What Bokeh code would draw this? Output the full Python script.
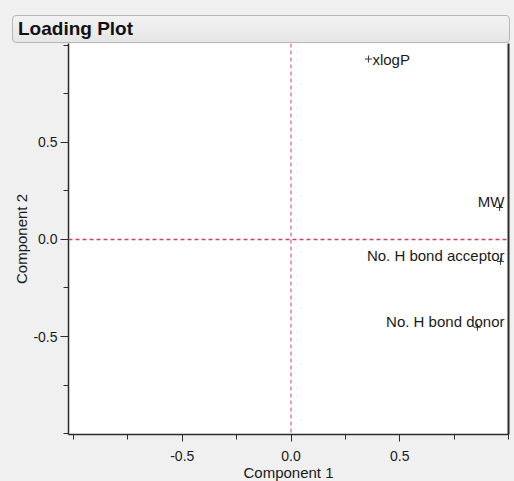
from bokeh.plotting import figure
from bokeh.models import (Span, LinearAxis, FixedTicker, Div, ColumnDataSource,
                          Range1d, NumeralTickFormatter)
from bokeh.layouts import column
from bokeh.core.properties import value
from bokeh.embed import file_html
from bokeh.resources import INLINE

# ---- data ----
variables = ["xlogP", "MW", "No. H bond acceptor", "No. H bond donor"]
comp1 = [0.356, 0.959, 0.963, 0.857]
comp2 = [0.930, 0.165, -0.113, -0.452]

x_major = [-0.5, 0.0, 0.5]
x_minor = [-1.0, -0.75, -0.25, 0.25, 0.75, 1.0]
y_major = [-0.5, 0.0, 0.5]
y_minor = [-1.0, -0.75, -0.25, 0.25, 0.75, 1.0]

title_text = "Loading Plot"
x_title = "Component 1"
y_title = "Component 2"

FONT = "Liberation Sans"
BG = "#f0f0f0"
AXIS = "#2b2b2b"
TXT = "#1a1a1a"
CROSS = "#d0406a"

p = figure(frame_width=440, frame_height=391,
           x_range=Range1d(-1.023, 1.0), y_range=Range1d(-1.005, 1.01),
           output_backend="svg", toolbar_location=None, title=None,
           min_border_left=68, min_border_right=6, min_border_top=0,
           min_border_bottom=47,
           background_fill_color="white", border_fill_color=BG,
           outline_line_color=None)
p.grid.visible = False

# axes styling
for ax, maj, mnr, lab in ((p.xaxis[0], x_major, x_minor, x_title),
                          (p.yaxis[0], y_major, y_minor, y_title)):
    ax.ticker = FixedTicker(ticks=maj, minor_ticks=mnr)
    ax.formatter = NumeralTickFormatter(format="0.0")
    ax.axis_label = lab
    ax.axis_label_text_font = FONT
    ax.axis_label_text_font_size = "15px"
    ax.axis_label_text_font_style = "normal"
    ax.axis_label_text_color = TXT
    ax.major_label_text_font = FONT
    ax.major_label_text_font_size = "14px"
    ax.major_label_text_color = TXT
    ax.axis_line_color = AXIS
    ax.axis_line_width = 1.5
    ax.major_tick_line_color = AXIS
    ax.minor_tick_line_color = AXIS
    ax.major_tick_in = 0
    ax.minor_tick_in = 0

p.xaxis.major_tick_out = 7
p.xaxis.minor_tick_out = 5
p.xaxis.major_label_standoff = 9
p.xaxis.axis_label_standoff = 0

p.yaxis.major_tick_out = 8
p.yaxis.minor_tick_out = 5
p.yaxis.major_label_standoff = 3
p.yaxis.axis_label_standoff = 0

# right frame edge
right_ax = LinearAxis(ticker=FixedTicker(ticks=[]), axis_line_color=AXIS,
                      axis_line_width=2, major_tick_line_color=None,
                      minor_tick_line_color=None,
                      major_label_text_font_size="0px")
p.add_layout(right_ax, "right")

# dashed cross-hair at origin
p.add_layout(Span(location=0, dimension="height", line_color=CROSS,
                  line_dash="4 3", line_width=1))
p.add_layout(Span(location=0, dimension="width", line_color=CROSS,
                  line_dash="4 3", line_width=1.3))

# loadings
p.scatter(comp1, comp2, marker="cross", size=7, line_color="#333333",
          line_width=1)

# labels: left-aligned next to point, or right-aligned at plot edge if no room
near_edge = [c > 0.6 for c in comp1]
src = ColumnDataSource(dict(
    lx=[p.x_range.end if e else c for c, e in zip(comp1, near_edge)],
    y=comp2,
    name=variables,
    align=["right" if e else "left" for e in near_edge],
    xo=[-4 if e else 4 for e in near_edge],
    yo=[-6 if e else 0 for e in near_edge],
))
p.text(x="lx", y="y", text="name", text_align="align", x_offset="xo",
       y_offset="yo", text_baseline="middle", source=src,
       text_font=value(FONT), text_font_size="15px", text_color=TXT)

title_html = (
    '<div style="box-sizing:border-box;margin:15px 0 0 12px;width:498px;'
    'height:28px;border:1px solid #b8b8b8;border-radius:4px;'
    'background:linear-gradient(#f2f2f2,#e6e6e6);'
    'font-family:\'Liberation Sans\',Arial,sans-serif;'
    'font-weight:bold;font-size:19px;line-height:26px;padding-left:5px;'
    'color:#111;">' + title_text + '</div>'
)
head = Div(text=title_html, width=514, height=43,
           styles={"background-color": BG, "margin": "0", "padding": "0"})

layout = column(head, p, spacing=0, styles={"background-color": BG})

open("out.html", "w").write(file_html(layout, INLINE))
